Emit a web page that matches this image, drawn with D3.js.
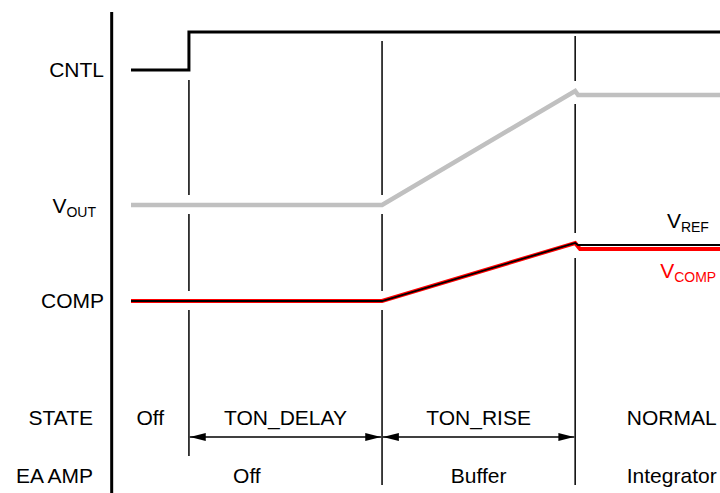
<!DOCTYPE html>
<html>
<head>
<meta charset="utf-8">
<script src="https://cdn.jsdelivr.net/npm/d3@7"></script>
<style>
  html,body{margin:0;padding:0;background:#fff;}
  svg{display:block;font-family:"Liberation Sans",Arial,sans-serif;}
</style>
</head>
<body>
<div id="chart"></div>
<script>
// ---- data (time in arbitrary units, level in arbitrary units) ----
const phaseEdges   = [-0.4, 1.2, 5.2, 9.2, 13.2];
const stateLabels  = ['Off', 'TON_DELAY', 'TON_RISE', 'NORMAL'];
const eaPhases     = [[-0.4, 5.2], [5.2, 9.2], [9.2, 13.2]];
const eaLabels     = ['Off', 'Buffer', 'Integrator'];
const rowLabels    = ['CNTL', 'VOUT', 'COMP', 'STATE', 'EA AMP'];

const cntlT = [0, 1.2, 1.2, 13.2];
const cntlV = [20.75, 20.75, 22.65, 22.65];
const voutT = [0, 5.2, 9.2, 9.26, 13.2];
const voutV = [14, 14, 19.7, 19.5, 19.5];
const vcompT = [0, 5.2, 9.2, 9.3, 13.2];
const vcompV = [9.2, 9.2, 12.1, 11.8, 11.8];
const vrefT = [0, 5.2, 9.2, 9.26, 13.2];
const vrefV = [9.2, 9.2, 12.1, 12.0, 12.0];

// ---- layout ----
const W = 720, H = 493;
const x = d3.scaleLinear().domain([0, 12.2]).range([131, 720]);
const y = d3.scaleLinear().domain([0, 24]).range([485, 5]);
const FS = 21, SUB = 14;

const zip = (ts, vs) => ts.map((t, i) => ({t, v: vs[i]}));
const line = d3.line().x(d => x(d.t)).y(d => y(d.v)).curve(d3.curveLinear);

const svg = d3.select('#chart').append('svg').attr('width', W).attr('height', H);

const defs = svg.append('defs');
defs.append('marker').attr('id', 'ah').attr('markerUnits', 'userSpaceOnUse')
  .attr('viewBox', '0 0 16 8').attr('refX', 16).attr('refY', 4)
  .attr('markerWidth', 16).attr('markerHeight', 8).attr('orient', 'auto-start-reverse')
  .append('path').attr('d', 'M0,0L16,4L0,8Z').attr('fill', '#000');

// left axis
svg.append('line').attr('x1', x(-0.4)).attr('x2', x(-0.4))
  .attr('y1', y(23.65)).attr('y2', y(-0.4)).attr('stroke', '#000').attr('stroke-width', 3);

// row labels
const labRows = [
  {txt: rowLabels[0], v: 20.4, xe: 104},
  {txt: rowLabels[1], v: 13.6, xe: 96, sub: true},
  {txt: rowLabels[2], v: 8.85, xe: 104},
  {txt: rowLabels[3], v: 3.0, xe: 93},
  {txt: rowLabels[4], v: 0.1, xe: 93}
];
labRows.forEach(r => {
  const t = svg.append('text').attr('x', r.xe).attr('y', y(r.v))
    .attr('text-anchor', 'end').attr('font-size', FS).attr('fill', '#000');
  if (r.sub) {
    t.append('tspan').text(r.txt[0]);
    t.append('tspan').text(r.txt.slice(1)).attr('font-size', SUB).attr('dy', 4);
  } else t.text(r.txt);
});

// phase markers with gaps where they cross VOUT / COMP
const crossing = [zip(voutT, voutV), zip(vcompT, vcompV), zip(vrefT, vrefV)];
function levelsAt(pts, t) {
  const near = pts.filter(p => p.t >= t - 0.01 && p.t <= t + 0.15).map(p => p.v);
  if (near.length) return near;
  const i = pts.findIndex(p => p.t > t);
  const a = pts[i - 1], b = pts[i];
  return [a.v + (b.v - a.v) * (t - a.t) / (b.t - a.t)];
}
const markers = [
  {t: phaseEdges[1], top: 20.25, bot: 1.45},
  {t: phaseEdges[2], top: 22.2, bot: 0},
  {t: phaseEdges[3], top: 22.45, bot: 0}
];
markers.forEach(m => {
  const gaps = crossing.map(c => {
    const lv = levelsAt(c, m.t);
    return [d3.max(lv) + 0.5, d3.min(lv) - 0.45];
  });
  // merge overlapping gaps
  gaps.sort((a, b) => b[0] - a[0]);
  const merged = [];
  gaps.forEach(g => {
    const last = merged[merged.length - 1];
    if (last && g[0] >= last[1]) last[1] = Math.min(last[1], g[1]);
    else merged.push(g.slice());
  });
  let cur = m.top;
  const segs = [];
  merged.forEach(g => { segs.push([cur, g[0]]); cur = g[1]; });
  segs.push([cur, m.bot]);
  segs.forEach(s => {
    svg.append('line').attr('x1', x(m.t)).attr('x2', x(m.t))
      .attr('y1', y(s[0])).attr('y2', y(s[1]))
      .attr('stroke', '#000').attr('stroke-width', 1.5);
  });
});

// traces
svg.append('path').attr('d', line(zip(cntlT, cntlV))).attr('fill', 'none')
  .attr('stroke', '#000').attr('stroke-width', 3);
svg.append('path').attr('d', line(zip(voutT, voutV))).attr('fill', 'none')
  .attr('stroke', '#c0c0c0').attr('stroke-width', 4.5);
svg.append('path').attr('d', line(zip(vcompT, vcompV))).attr('fill', 'none')
  .attr('stroke', '#ff0000').attr('stroke-width', 4);
svg.append('path').attr('d', line(zip(vrefT, vrefV))).attr('fill', 'none')
  .attr('stroke', '#000').attr('stroke-width', 1.8);

// VREF / VCOMP labels
function subLabel(main, sub, t, v, color) {
  const tx = svg.append('text').attr('x', x(t)).attr('y', y(v))
    .attr('font-size', FS).attr('fill', color);
  tx.append('tspan').text(main);
  tx.append('tspan').text(sub).attr('font-size', SUB).attr('dy', 4);
}
subLabel('V', 'REF', 11.1, 12.85, '#000');
subLabel('V', 'COMP', 10.96, 10.35, '#ff0000');

// state row
stateLabels.forEach((s, i) => {
  svg.append('text').attr('x', x((phaseEdges[i] + phaseEdges[i + 1]) / 2)).attr('y', y(3.0))
    .attr('text-anchor', 'middle').attr('font-size', FS).text(s);
});
// arrows for TON_DELAY and TON_RISE
[[phaseEdges[1], phaseEdges[2]], [phaseEdges[2], phaseEdges[3]]].forEach(p => {
  svg.append('line').attr('x1', x(p[0]) + 0.8).attr('x2', x(p[1]) - 0.8)
    .attr('y1', y(2.4)).attr('y2', y(2.4))
    .attr('stroke', '#000').attr('stroke-width', 1.5)
    .attr('marker-start', 'url(#ah)').attr('marker-end', 'url(#ah)');
});

// EA AMP row
eaPhases.forEach((p, i) => {
  svg.append('text').attr('x', x((p[0] + p[1]) / 2)).attr('y', y(0.1))
    .attr('text-anchor', 'middle').attr('font-size', FS).text(eaLabels[i]);
});
</script>
</body>
</html>
